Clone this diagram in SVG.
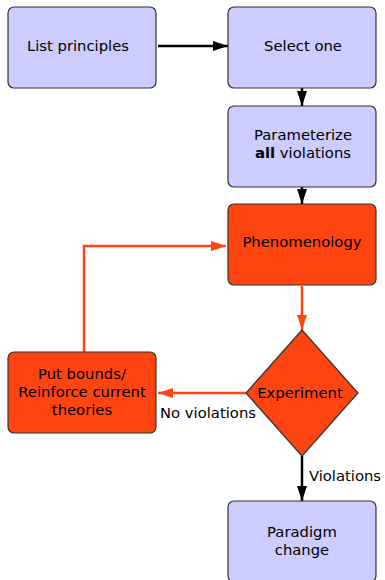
<svg xmlns="http://www.w3.org/2000/svg" width="385" height="580" viewBox="0 0 385 580">
<style>
text{font-family:"DejaVu Sans",sans-serif;font-size:14.8px;fill:#000;text-anchor:middle}
.b{fill:#ccccff;stroke:#333;stroke-width:1.2}
.o{fill:#ff4411;stroke:#333;stroke-width:1.2}
.k{stroke:#000;stroke-width:2.5;fill:none}
.r{stroke:#ff4411;stroke-width:2.5;fill:none}
</style>
<defs>
<marker id="ak" viewBox="0 0 15 10" refX="15" refY="5" markerWidth="6" markerHeight="4" orient="auto" markerUnits="strokeWidth"><path d="M0,0L15,5L0,10z" fill="#000"/></marker>
<marker id="ar" viewBox="0 0 15 10" refX="15" refY="5" markerWidth="6" markerHeight="4" orient="auto" markerUnits="strokeWidth"><path d="M0,0L15,5L0,10z" fill="#ff4411"/></marker>
</defs>
<g id="connectors">
<path class="k" d="M158,46H228" marker-end="url(#ak)"/>
<path class="k" d="M302,88V106" marker-end="url(#ak)"/>
<path class="k" d="M302,187V204" marker-end="url(#ak)"/>
<path class="r" d="M302,286V330" marker-end="url(#ar)"/>
<path class="r" d="M246,393H158" marker-end="url(#ar)"/>
<path class="r" d="M84,352V246H226" marker-end="url(#ar)"/>
<path class="k" d="M302,456V501" marker-end="url(#ak)"/>
<text x="208" y="418">No violations</text>
<text x="345" y="481">Violations</text>
</g>
<g id="list"><rect class="b" x="8" y="7" width="148" height="81" rx="6"/><text x="78" y="51">List principles</text></g>
<g id="select"><rect class="b" x="228" y="7" width="148" height="81" rx="6"/><text x="303" y="51">Select one</text></g>
<g id="param"><rect class="b" x="228" y="106" width="148" height="81" rx="6"/><text x="303" y="140">Parameterize</text><text x="303" y="158"><tspan font-weight="bold">all</tspan> violations</text></g>
<g id="phen"><rect class="o" x="228" y="204" width="148" height="81" rx="6"/><text x="302" y="247">Phenomenology</text></g>
<g id="exp"><path class="o" d="M302,330L358,393L302,456L246,393z"/><text x="300" y="398">Experiment</text></g>
<g id="bounds"><rect class="o" x="8" y="352" width="148" height="81" rx="6"/><text x="82" y="379">Put bounds/</text><text x="82" y="397">Reinforce current</text><text x="82" y="415">theories</text></g>
<g id="paradigm"><rect class="b" x="228" y="501" width="148" height="81" rx="6"/><text x="302" y="537">Paradigm</text><text x="302" y="555">change</text></g>
</svg>
